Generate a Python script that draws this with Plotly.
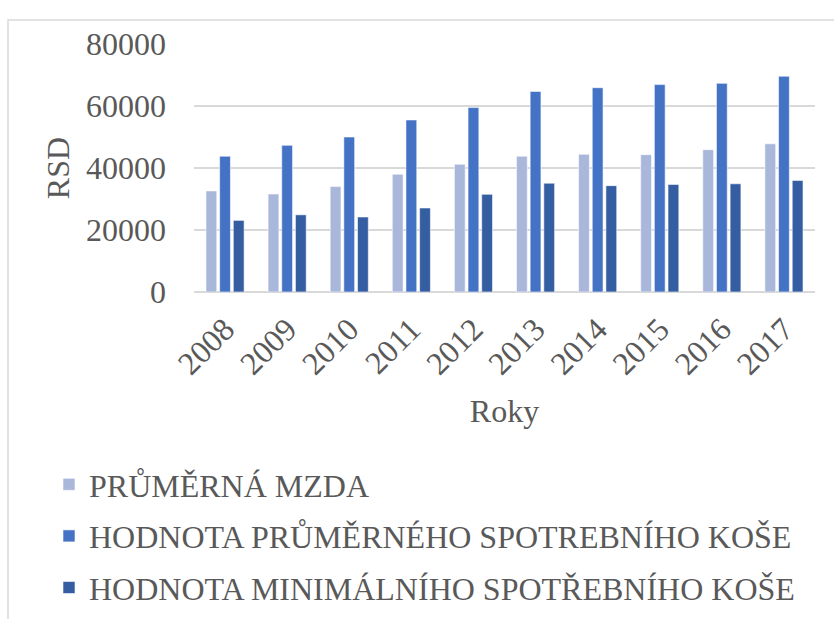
import plotly.graph_objects as go

years = ["2008", "2009", "2010", "2011", "2012", "2013", "2014", "2015", "2016", "2017"]
prumerna_mzda = [32600, 31600, 34000, 38000, 41200, 43800, 44400, 44300, 45900, 47800]
prumerny_kos = [43800, 47300, 50000, 55500, 59500, 64700, 65900, 66900, 67300, 69600]
minimalni_kos = [23100, 24900, 24200, 27100, 31500, 35100, 34300, 34700, 34900, 36000]

names = ["PRŮMĚRNÁ MZDA",
         "HODNOTA PRŮMĚRNÉHO SPOTREBNÍHO KOŠE",
         "HODNOTA MINIMÁLNÍHO SPOTŘEBNÍHO KOŠE"]
colors = ["#A9B7DB", "#4473C5", "#355EA2"]
series = [prumerna_mzda, prumerny_kos, minimalni_kos]

FONT = "Liberation Serif"
FS = 32
TXT = "#595959"
GRID = "#D9D9D9"

fig = go.Figure()
for i, (nm, vals, col) in enumerate(zip(names, series, colors)):
    fig.add_trace(go.Bar(
        x=years, y=vals, name=nm, legendgroup=str(i),
        marker=dict(color=col, line=dict(color="rgba(255,255,255,0.7)", width=0.8)),
    ))

W, H = 834, 619
L, R, T, B = 194, 19, 44, 327
pw, ph = W - L - R, H - T - B

def px(x):
    return (x - L) / pw

def py(y):
    return (H - B - y) / ph

fig.update_layout(
    width=W, height=H,
    margin=dict(l=L, r=R, t=T, b=B, autoexpand=False),
    paper_bgcolor="white", plot_bgcolor="white",
    font=dict(family=FONT, size=FS, color=TXT),
    barmode="group", bargap=0.34, bargroupgap=0.21,
    showlegend=True,
    legend=dict(
        x=px(49), y=py(457), xanchor="left", yanchor="top",
        traceorder="grouped", tracegroupgap=7,
        font=dict(family=FONT, size=FS, color=TXT),
        bgcolor="rgba(0,0,0,0)", borderwidth=0,
    ),
    xaxis=dict(
        type="category", tickangle=-45, showgrid=False,
        showline=False, ticks="", ticklabelstandoff=11,
        tickfont=dict(family=FONT, size=FS, color=TXT),
        title=dict(text="Roky", font=dict(family=FONT, size=FS, color=TXT), standoff=19),
    ),
    yaxis=dict(
        range=[0, 80000], tickvals=[0, 20000, 40000, 60000, 80000],
        ticktext=["0", "20000", "40000", "60000", "80000"],
        showgrid=True, gridcolor=GRID, gridwidth=2,
        zeroline=True, zerolinecolor=GRID, zerolinewidth=2,
        showline=False, ticks="", ticklabelstandoff=27,
        tickfont=dict(family=FONT, size=FS, color=TXT),
        title=dict(text="RSD", font=dict(family=FONT, size=FS, color=TXT), standoff=6),
    ),
    shapes=[dict(
        type="rect", xref="paper", yref="paper",
        x0=px(8), x1=px(845), y0=py(630), y1=py(20),
        line=dict(color=GRID, width=1.5), fillcolor="rgba(0,0,0,0)", layer="below",
    )],
)

fig.write_html("out.html", config={"displayModeBar": False},
               post_script="document.body.style.margin='0';")
